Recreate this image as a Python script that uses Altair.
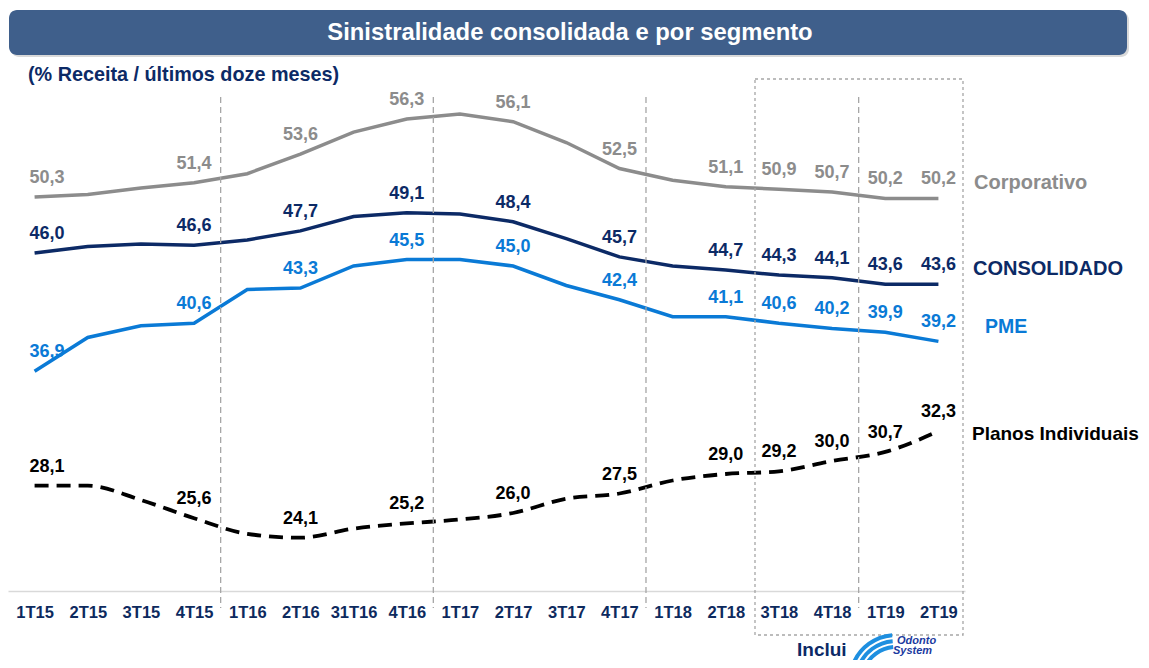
import altair as alt
import pandas as pd

# ---- data ----
categories = ["1T15", "2T15", "3T15", "4T15", "1T16", "2T16", "31T16", "4T16", "1T17",
              "2T17", "3T17", "4T17", "1T18", "2T18", "3T18", "4T18", "1T19", "2T19"]
corporativo = [50.3, 50.5, 51.0, 51.4, 52.1, 53.6, 55.3, 56.3, 56.7,
               56.1, 54.5, 52.5, 51.6, 51.1, 50.9, 50.7, 50.2, 50.2]
consolidado = [46.0, 46.5, 46.7, 46.6, 47.0, 47.7, 48.8, 49.1, 49.0,
               48.4, 47.1, 45.7, 45.0, 44.7, 44.3, 44.1, 43.6, 43.6]
pme = [36.9, 39.5, 40.4, 40.6, 43.2, 43.3, 45.0, 45.5, 45.5,
       45.0, 43.5, 42.4, 41.1, 41.1, 40.6, 40.2, 39.9, 39.2]
planos = [28.1, 28.1, 27.0, 25.6, 24.4, 24.1, 24.8, 25.2, 25.5,
          26.0, 27.1, 27.5, 28.5, 29.0, 29.2, 30.0, 30.7, 32.3]
labeled = ["1T15", "4T15", "2T16", "4T16", "2T17", "4T17", "2T18", "3T18", "4T18", "1T19", "2T19"]
divider_cats = ["1T16", "1T17", "1T18", "1T19"]

series_names = ["Corporativo", "CONSOLIDADO", "PME", "Planos Individuais"]
series_colors = ["#8c8c8c", "#0c2a66", "#0a7ad6", "#000000"]
series_values = [corporativo, consolidado, pme, planos]

rows = []
for name, vals in zip(series_names, series_values):
    for c, v in zip(categories, vals):
        rows.append({"cat": c, "serie": name, "value": v,
                     "label": f"{v:.1f}".replace(".", ","),
                     "show": c in labeled})
df = pd.DataFrame(rows)

FONT = "Liberation Sans"

xenc = alt.X("cat:N", sort=categories,
             scale=alt.Scale(type="point", padding=0.5),
             axis=alt.Axis(title=None, labelAngle=0, labelAlign="center", labelBaseline="top",
                           ticks=False, grid=False,
                           domainColor="#d9d9d9", domainWidth=1.5,
                           labelFont=FONT, labelFontWeight="bold", labelFontSize=16.5,
                           labelColor="#0d2a5e", labelPadding=13))
yenc = alt.Y("value:Q", scale=alt.Scale(domain=[20, 58]), axis=None)
color = alt.Color("serie:N", scale=alt.Scale(domain=series_names, range=series_colors), legend=None)

base = alt.Chart(df)

solid = base.transform_filter(alt.datum.serie != "Planos Individuais").mark_line(
    strokeWidth=3.5).encode(x=xenc, y=yenc, color=color, detail="serie:N")
dashed = base.transform_filter(alt.datum.serie == "Planos Individuais").mark_line(
    strokeWidth=3.8, strokeDash=[14, 8], interpolate="monotone").encode(x=xenc, y=yenc, color=color)

# title banner
shadow = alt.Chart(pd.DataFrame({"a": [0]})).mark_rect(cornerRadius=8, fill="#d9d9d9").encode(
    x=alt.value(3), x2=alt.value(1121), y=alt.value(-85), y2=alt.value(-40))
banner = alt.Chart(pd.DataFrame({"a": [0]})).mark_rect(cornerRadius=8, fill="#3f5f8b").encode(
    x=alt.value(1), x2=alt.value(1119), y=alt.value(-87), y2=alt.value(-42))
banner_text = alt.Chart(pd.DataFrame({"t": ["Sinistralidade consolidada e por segmento"]})).mark_text(
    font=FONT, fontSize=23.8, fontWeight="bold", color="white", align="center", baseline="middle").encode(
    x=alt.value(562), y=alt.value(-64), text="t:N")
subtitle = alt.Chart(pd.DataFrame({"t": ["(% Receita / últimos doze meses)"]})).mark_text(
    font=FONT, fontSize=19.8, fontWeight="bold", color="#0c2a66", align="left", baseline="middle").encode(
    x=alt.value(20), y=alt.value(-22), text="t:N")

# dotted box
box = alt.Chart(pd.DataFrame({"a": [0]})).mark_rect(
    fill="white", fillOpacity=0, stroke="#a6a6a6", strokeWidth=1.3, strokeDash=[3, 3]).encode(
    x=alt.value(747), x2=alt.value(955), y=alt.value(-18), y2=alt.value(538))

# dashed dividers
dividers = alt.Chart(pd.DataFrame({"cat": divider_cats})).mark_rule(
    color="#a6a6a6", strokeWidth=1.3, strokeDash=[6, 4], xOffset=-26.6).encode(
    x=xenc, y=alt.value(0), y2=alt.value(511))

lab_first = base.transform_filter(alt.datum.show & (alt.datum.cat == "1T15")).mark_text(
    font=FONT, fontSize=18, fontWeight="bold", align="left", baseline="middle", dx=-5, dy=-19).encode(
    x=xenc, y=yenc, text="label:N", color=color)
lab_rest = base.transform_filter(alt.datum.show & (alt.datum.cat != "1T15")).mark_text(
    font=FONT, fontSize=18, fontWeight="bold", align="center", baseline="middle", dy=-19).encode(
    x=xenc, y=yenc, text="label:N", color=color)

# series names on the right
name_pos = {"Corporativo": (966, 86, 20), "CONSOLIDADO": (965, 172, 20),
            "PME": (977, 230, 19.5), "Planos Individuais": (964, 337, 19)}
name_layers = []
for i, n in enumerate(series_names):
    px, py, fs = name_pos[n]
    name_layers.append(
        alt.Chart(pd.DataFrame({"serie": [n]})).mark_text(
            font=FONT, fontSize=fs, fontWeight="bold", align="left", baseline="middle",
            color=series_colors[i]).encode(
            x=alt.value(px), y=alt.value(py), text="serie:N"))

# "Inclui" + logo
inclui = alt.Chart(pd.DataFrame({"t": ["Inclui"]})).mark_text(
    font=FONT, fontSize=19, fontWeight="bold", color="#0c2a66", align="left", baseline="middle").encode(
    x=alt.value(789), y=alt.value(553), text="t:N")
swoosh = []
for r0 in [32, 38, 44]:
    swoosh.append(alt.Chart(pd.DataFrame({"a": [0]})).mark_arc(
        theta=5.1, theta2=6.2, radius=r0, radius2=r0 + 4, color="#1e8fe0").encode(
        x=alt.value(888), y=alt.value(584)))
logo1 = alt.Chart(pd.DataFrame({"t": ["Odonto"]})).mark_text(
    font=FONT, fontSize=11, fontWeight="bold", fontStyle="italic", color="#1b3aa0",
    align="left", baseline="middle").encode(x=alt.value(889), y=alt.value(544), text="t:N")
logo2 = alt.Chart(pd.DataFrame({"t": ["System"]})).mark_text(
    font=FONT, fontSize=11, fontWeight="bold", fontStyle="italic", color="#1b3aa0",
    align="left", baseline="middle").encode(x=alt.value(885), y=alt.value(554), text="t:N")

chart = alt.layer(
    solid, dashed, shadow, banner, banner_text, subtitle, box, dividers, lab_first, lab_rest,
    *name_layers, inclui, *swoosh, logo1, logo2
).properties(
    width=957, height=494,
    padding={"left": 0, "top": 89, "right": 176, "bottom": 69},
    autosize=alt.AutoSizeParams(type="none"),
    background="white",
).configure_view(stroke=None)

chart.save("out.html", embed_options={"renderer": "svg", "actions": False})
